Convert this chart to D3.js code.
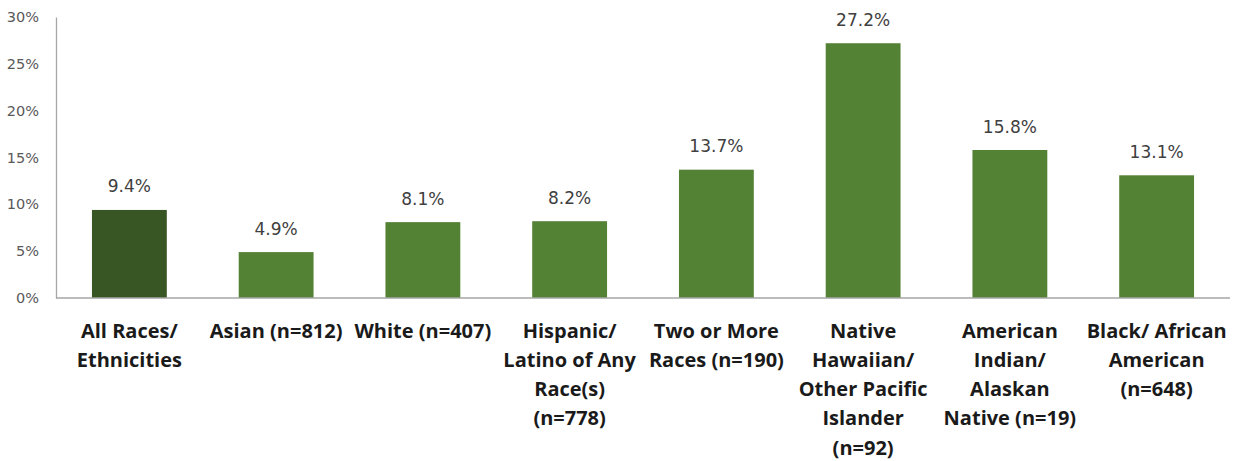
<!DOCTYPE html>
<html><head><meta charset="utf-8">
<script src="https://cdn.jsdelivr.net/npm/d3@7"></script>
<style>body{margin:0;background:#fff}svg{display:block}</style>
</head><body><svg id="c" width="1233" height="461"></svg>
<script>
const categories = [
  ["All Races/","Ethnicities"],
  ["Asian (n=812)"],
  ["White (n=407)"],
  ["Hispanic/","Latino of Any","Race(s)","(n=778)"],
  ["Two or More","Races (n=190)"],
  ["Native","Hawaiian/","Other Pacific","Islander","(n=92)"],
  ["American","Indian/","Alaskan","Native (n=19)"],
  ["Black/ African","American","(n=648)"]
];
const values = [9.4, 4.9, 8.1, 8.2, 13.7, 27.2, 15.8, 13.1];
const yTicks = [0, 5, 10, 15, 20, 25, 30];
const barColors = ["#375623", "#548235"];

(function(){
const svg = d3.select("#c");
const mLeft = 56, mRight = 1230, mTop = 17, mBottom = 298;
const keys = categories.map((d,i)=>i);
const x = d3.scaleBand().domain(keys).range([mLeft, mRight]).paddingInner(0.49).paddingOuter(0.245);
const y = d3.scaleLinear().domain([0, 30]).range([mBottom, mTop]);
const numFont = "'DejaVu Sans', sans-serif";
const catFont = "'Open Sans', sans-serif";

const yAxis = d3.axisLeft(y).tickValues(yTicks).tickFormat(d => d + "%").tickSize(0).tickPadding(17);
const ga = svg.append("g").attr("transform", `translate(${mLeft},0)`).call(yAxis);
ga.select(".domain").attr("stroke", "#a6a6a6").attr("stroke-width", 1.3);
ga.selectAll("text").attr("font-family", numFont).attr("font-size", 14.5).attr("fill", "#595959");

svg.append("g").selectAll("rect").data(values).join("rect")
  .attr("x", (d,i) => x(i)).attr("width", x.bandwidth())
  .attr("y", d => y(d)).attr("height", d => y(0) - y(d))
  .attr("fill", (d,i) => i === 0 ? barColors[0] : barColors[1]);

svg.append("line").attr("x1", mLeft).attr("x2", mRight).attr("y1", y(0)).attr("y2", y(0))
  .attr("stroke", "#a6a6a6").attr("stroke-width", 1.3);

svg.append("g").selectAll("text").data(values).join("text")
  .attr("x", (d,i) => x(i) + x.bandwidth()/2).attr("y", d => y(d) - 17.5)
  .attr("text-anchor", "middle").attr("font-family", numFont).attr("font-size", 17).attr("fill", "#404040")
  .text(d => d.toFixed(1) + "%");

const cg = svg.append("g");
categories.forEach((lines, i) => {
  const cx = x(i) + x.bandwidth()/2;
  const t = cg.append("text").attr("x", cx).attr("y", 337.5)
    .attr("text-anchor", "middle").attr("font-family", catFont).attr("font-weight", "bold")
    .attr("font-size", 20).attr("fill", "#1a1a1a");
  lines.forEach((l, k) => t.append("tspan").attr("x", cx).attr("dy", k ? 29.3 : 0).text(l));
});
})();
</script></body></html>
